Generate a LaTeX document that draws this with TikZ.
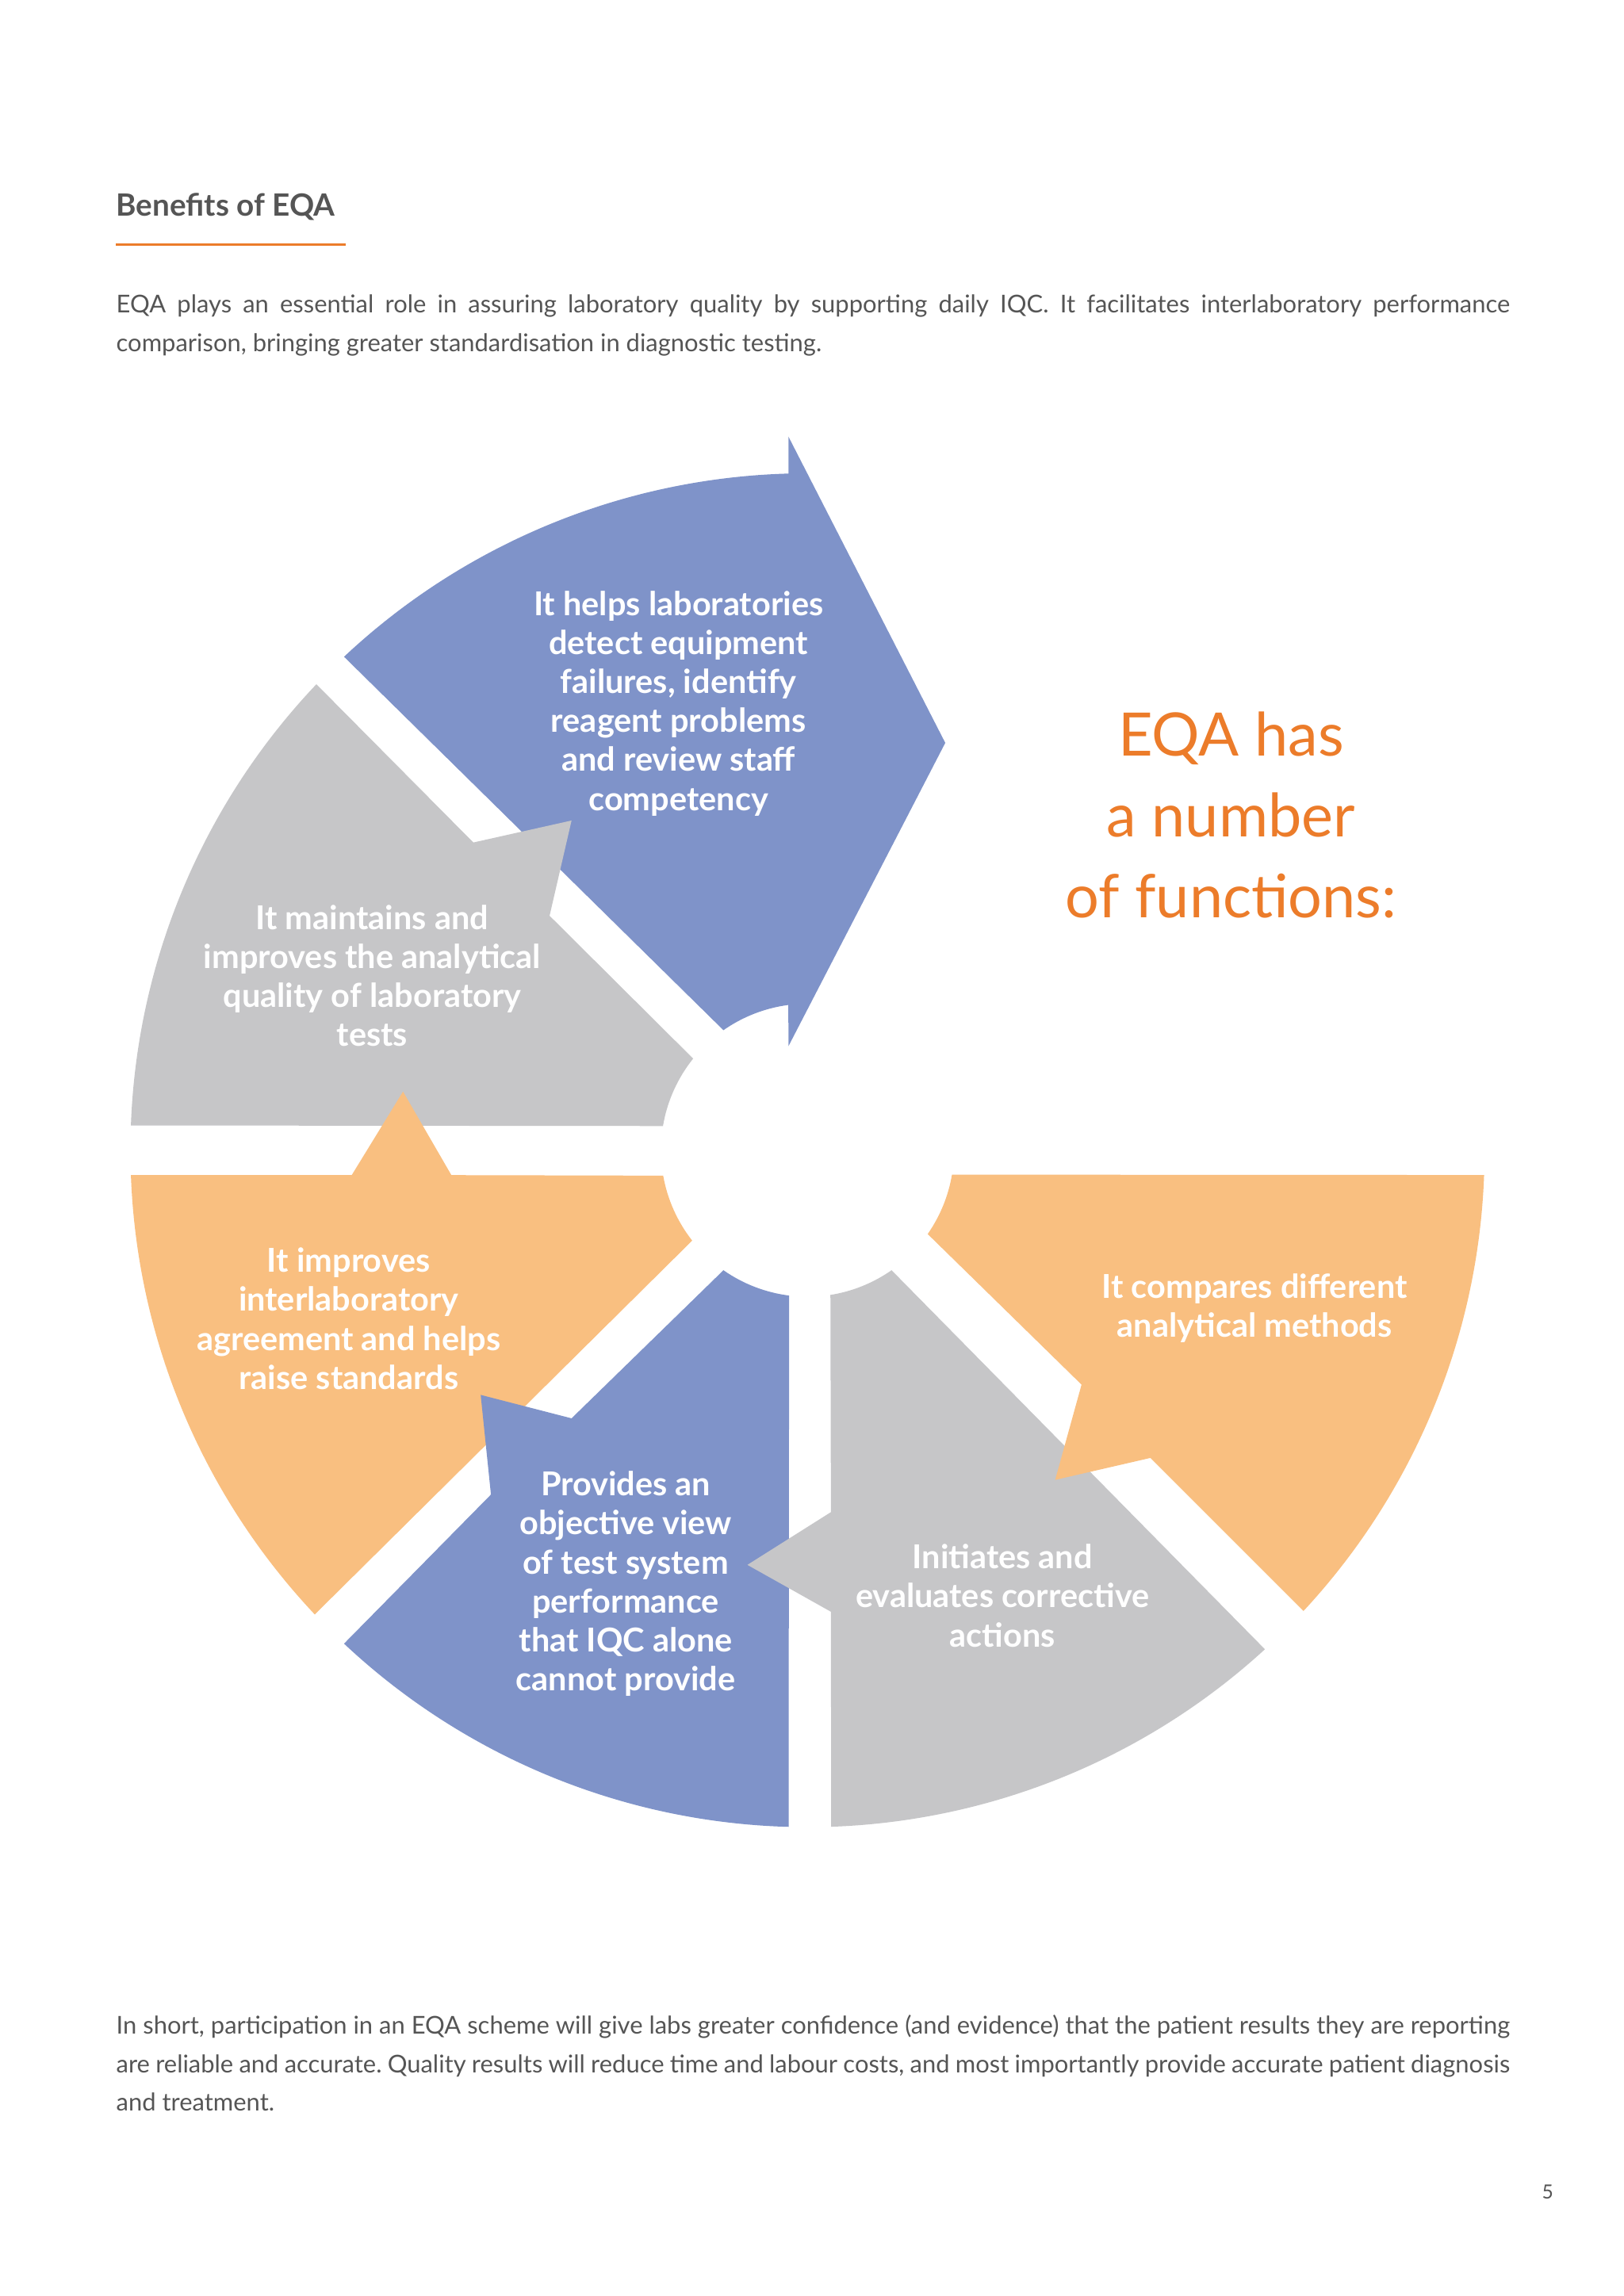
\documentclass[tikz,border=0pt]{standalone}
\usepackage{fontspec}
\setmainfont{Lato}
\usetikzlibrary{calc}
\definecolor{bl}{HTML}{7F93C9}
\definecolor{gr}{HTML}{C6C6C8}
\definecolor{or}{HTML}{F9BF80}
\definecolor{tor}{HTML}{EC7C2A}
\definecolor{txt}{HTML}{555555}
\begin{document}
\begin{tikzpicture}[x=0.01848cm,y=-0.01848cm,
  lab/.style={text=white,font=\fontsize{11.8}{14}\selectfont\bfseries,align=center},
  body/.style={text=txt,font=\fontsize{8.8}{13.7}\selectfont,align=justify,text width=17.57cm,inner sep=0pt,anchor=north west}]
\useasboundingbox[fill=white] (0,0) rectangle (1108,1567);
\coordinate (C) at (551,785);
\def\R{462}\def\ri{100}
% blue top
\fill[bl] ($(C)+(226.8:\R)$) arc[start angle=226.8,end angle=268.4,radius=\R] -- (538,298) -- (645,507) -- (538,714) -- ($(C)+(262.5:\ri)$) arc[start angle=262.5,end angle=235,radius=\ri] -- cycle;
% gray left
\fill[gr] ($(C)+(182.1:\R)$) arc[start angle=182.1,end angle=223.5,radius=\R] -- (323,575) -- (390,560) -- (375,625) -- ($(C)+(218.7:\ri)$) arc[start angle=218.7,end angle=189.5,radius=\ri] -- cycle;
% orange left
\fill[or] ($(C)+(177.9:\R)$) -- (240,802) -- (275,745) -- (308,802) -- ($(C)+(170:\ri)$) arc[start angle=170,end angle=141.9,radius=\ri] -- ($(C)+(136.7:\R)$) arc[start angle=136.7,end angle=177.9,radius=\R] -- cycle;
% blue bottom
\fill[bl] ($(C)+(125:\ri)$) arc[start angle=125,end angle=97.2,radius=\ri] -- ($(C)+(91.6:\R)$) arc[start angle=91.6,end angle=133.2,radius=\R] -- (335,1020) -- (328,952) -- (390,968) -- cycle;
% gray bottom
\fill[gr] ($(C)+(81:\ri)$) -- (567,1032) -- (510,1068) -- (567,1100) -- ($(C)+(88:\R)$) arc[start angle=88,end angle=47.5,radius=\R] -- ($(C)+(55:\ri)$) arc[start angle=55,end angle=81,radius=\ri] -- cycle;
% orange right
\fill[or] ($(C)+(2.1:\R)$) arc[start angle=2.1,end angle=42.9,radius=\R] -- (785,995) -- (720,1010) -- (738,945) -- ($(C)+(34.9:\ri)$) arc[start angle=34.9,end angle=9.6,radius=\ri] -- cycle;
% labels
\node[lab] (l1) at (463,480) {It helps laboratories\\detect equipment\\failures, identify\\reagent problems\\and review staff\\competency};
\node[lab] (l2) at (254,666) {It maintains and\\improves the analytical\\quality of laboratory\\tests};
\node[lab] (l3) at (238,900) {It improves\\interlaboratory\\agreement and helps\\raise standards};
\node[lab] (l4) at (427,1081) {Provides an\\objective view\\of test system\\performance\\that IQC alone\\cannot provide};
\node[lab] (l5) at (684,1089) {Initiates and\\evaluates corrective\\actions};
\node[lab] (l6) at (856,893) {It compares different\\analytical methods};
\node[text=tor,font=\fontsize{21.5}{29}\selectfont,align=center] (eqa) at (840,556) {EQA has\\a number\\of functions:};
% header
\node[anchor=west,text=txt,font=\fontsize{11}{13}\selectfont\bfseries,inner sep=0pt] (title) at (79,141) {Benefits of EQA};
\coordinate (u1) at (79,167); \coordinate (u2) at (236,167);
\draw[tor,line width=1pt] (u1) -- (u2);
\node[body] (p1) at (79,201) {\frenchspacing EQA plays an essential role in assuring laboratory quality by supporting daily IQC. It facilitates interlaboratory performance \mbox{comparison,} bringing greater standardisation in diagnostic testing.};
\node[body] (p2) at (79,1375) {\frenchspacing In short, participation in an EQA scheme will give labs greater confidence (and evidence) that the patient results they are reporting are reliable and accurate. Quality results will reduce time and labour costs, and most importantly provide accurate patient diagnosis and treatment.};
\node[text=txt,font=\fontsize{7}{8}\selectfont] (pg) at (1056,1496) {5};
\end{tikzpicture}
\end{document}
